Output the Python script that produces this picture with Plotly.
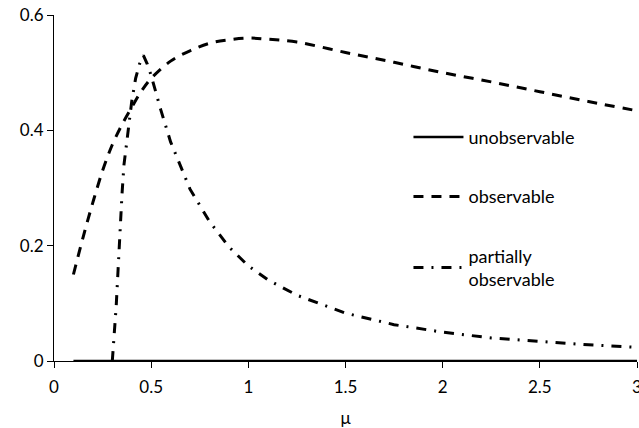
import plotly.graph_objects as go

# Data
mu_unobs = [0.1, 3.0]
y_unobs = [0.0, 0.0]

mu_obs = [0.1, 0.15, 0.2, 0.25, 0.3, 0.35, 0.4, 0.45, 0.5, 0.6, 0.7, 0.8, 0.9, 1.0,
          1.1, 1.25, 1.5, 1.75, 2.0, 2.25, 2.5, 2.75, 3.0]
y_obs = [0.15, 0.215, 0.275, 0.33, 0.375, 0.41, 0.44, 0.468, 0.49, 0.52, 0.538, 0.551,
         0.557, 0.56, 0.558, 0.553, 0.535, 0.518, 0.50, 0.484, 0.467, 0.45, 0.434]

mu_part = [0.3, 0.31, 0.32, 0.33, 0.34, 0.35, 0.36, 0.38, 0.40, 0.42, 0.44, 0.46, 0.48,
           0.5, 0.55, 0.6, 0.7, 0.8, 0.9, 1.0, 1.1, 1.25, 1.5, 1.75, 2.0, 2.25, 2.5,
           2.75, 3.0]
y_part = [0.0, 0.04, 0.095, 0.16, 0.23, 0.29, 0.34, 0.40, 0.45, 0.49, 0.515, 0.53, 0.515,
          0.495, 0.435, 0.38, 0.298, 0.242, 0.198, 0.165, 0.141, 0.114, 0.083, 0.063,
          0.050, 0.040, 0.0335, 0.028, 0.0237]

x_ticks = [0, 0.5, 1, 1.5, 2, 2.5, 3]
x_ticklabels = ["0", "0.5", "1", "1.5", "2", "2.5", "3"]
y_ticks = [0, 0.2, 0.4, 0.6]
y_ticklabels = ["0", "0.2", "0.4", "0.6"]

FONT = "Lato"
FS = 17

fig = go.Figure()
fig.add_trace(go.Scatter(x=mu_unobs, y=y_unobs, mode="lines", name="unobservable",
                         legendgroup="a",
                         line=dict(color="black", width=2.5)))
fig.add_trace(go.Scatter(x=mu_obs, y=y_obs, mode="lines", name="observable",
                         legendgroup="b", line_shape="spline",
                         line=dict(color="black", width=3, dash="10px,8px")))
fig.add_trace(go.Scatter(x=mu_part, y=y_part, mode="lines",
                         name="partially<br>observable", legendgroup="c",
                         line_shape="linear",
                         line=dict(color="black", width=3, dash="10px,8px,2px,8px")))

fig.update_layout(
    width=639, height=428,
    margin=dict(l=54, r=2, t=15, b=67, autoexpand=False),
    paper_bgcolor="white", plot_bgcolor="white",
    font=dict(family=FONT, size=FS, color="black"),
    showlegend=True,
    legend=dict(x=0.608, y=0.70, xanchor="left", yanchor="top",
                bgcolor="rgba(0,0,0,0)", tracegroupgap=33,
                font=dict(family=FONT, size=18, color="black"),
                itemwidth=50),
    xaxis=dict(range=[0, 3], tickvals=x_ticks, ticktext=x_ticklabels,
               showgrid=False, zeroline=False, showline=True, linecolor="black",
               linewidth=1, ticks="outside", ticklen=6, tickcolor="black",
               ticklabeloverflow="allow", ticklabelstandoff=5, automargin=False,
               title=dict(text="μ", standoff=18, font=dict(size=FS))),
    yaxis=dict(range=[0, 0.6], tickvals=y_ticks, ticktext=y_ticklabels,
               showgrid=False, zeroline=False, showline=True, linecolor="black",
               linewidth=1, ticks="outside", ticklen=6, tickcolor="black",
               automargin=False),
)

fig.write_html("out.html")
